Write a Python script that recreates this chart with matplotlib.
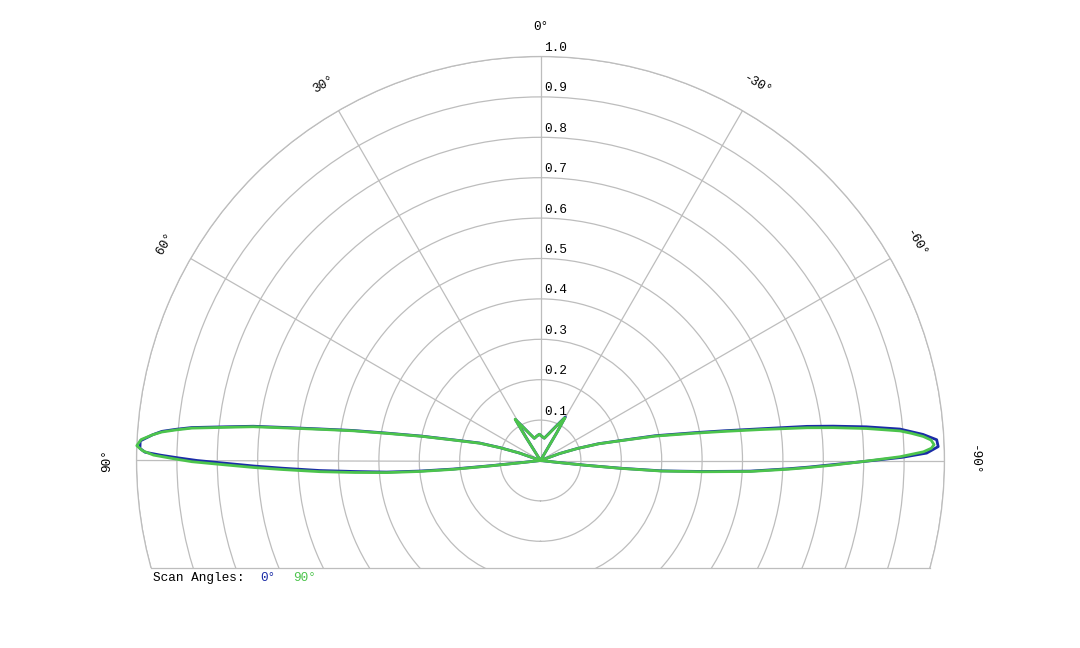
import numpy as np
import matplotlib
matplotlib.use('Agg')
import matplotlib.pyplot as plt
from matplotlib.patches import Rectangle

# Pattern cut. Theta in degrees, 0 = up, positive to the left.
# Scan angle 0 deg (blue)
scan0_theta = [-96.6, -96.3, -96.0, -95.5, -94.9, -93.9, -92.9, -91.9, -91.4, -90.8,
               -90.1, -89.5, -88.9, -88.0, -87.0, -86.1, -85.0, -84.1, -83.3, -82.7,
               -81.8, -80.8, -79.8, -77.8, -75.9, -73.9, -71.9, -70.0, -68.0,
               -30.9, -30.3, -29.7, -27.0, -23.4, -18.1, -9.6, -3.0, 2.6, 8.7,
               15.5, 22.1, 26.4, 29.3, 31.5, 32.1, 32.7,
               68.0, 70.5, 72.4, 74.0, 76.7, 78.4, 79.9, 80.9, 81.85, 82.7,
               83.2, 83.9, 84.6, 85.1, 85.6, 86.2, 87.2, 88.26, 88.8, 89.2,
               89.6, 90.0, 90.5, 91.1, 91.7, 92.6, 93.4, 94.3, 95.0, 95.6,
               96.0, 96.3, 96.5]
scan0_r = [0.0, 0.04, 0.11, 0.2, 0.3, 0.4, 0.52, 0.615, 0.665, 0.725,
           0.81, 0.895, 0.956, 0.985, 0.982, 0.949, 0.893, 0.811, 0.729, 0.665,
           0.55, 0.46, 0.39, 0.29, 0.2, 0.15, 0.095, 0.05, 0.0,
           0.0, 0.08, 0.124, 0.106, 0.089, 0.072, 0.056, 0.06, 0.065, 0.061,
           0.057, 0.072, 0.088, 0.104, 0.119, 0.07, 0.0,
           0.0, 0.056, 0.106, 0.157, 0.223, 0.3, 0.387, 0.47, 0.551, 0.646,
           0.716, 0.785, 0.867, 0.905, 0.94, 0.962, 0.992, 0.992, 0.979, 0.94,
           0.895, 0.85, 0.78, 0.71, 0.64, 0.547, 0.46, 0.382, 0.3, 0.217,
           0.12, 0.04, 0.0]

# Scan angle 90 deg (green)
scan90_theta = [-96.7, -96.4, -96.1, -95.6, -95.0, -94.0, -93.0, -92.0, -91.5, -90.9,
                -90.1, -89.4, -88.7, -88.2, -87.7, -87.0, -86.4, -85.8, -85.3, -84.4,
                -83.6, -83.0, -82.0, -81.0, -80.0, -78.0, -76.0, -74.0, -72.0, -70.0,
                -68.0,
                -31.0, -30.4, -29.8, -27.1, -23.5, -18.2, -9.7, -3.1, 2.6, 8.7,
                15.6, 22.2, 26.5, 29.4, 31.6, 32.2, 32.8,
                68.0, 70.5, 72.5, 74.1, 76.8, 78.5, 80.0, 81.0, 81.95, 82.8,
                83.3, 84.0, 84.7, 85.2, 85.7, 86.2, 87.0, 87.9, 88.6, 89.2,
                89.7, 90.2, 90.8, 91.4, 92.0, 92.9, 93.7, 94.5, 95.2, 95.8,
                96.2, 96.5, 96.7]
scan90_r = [0.0, 0.04, 0.11, 0.2, 0.3, 0.4, 0.52, 0.615, 0.665, 0.725,
            0.807, 0.89, 0.948, 0.968, 0.975, 0.968, 0.949, 0.92, 0.893, 0.811,
            0.729, 0.665, 0.55, 0.46, 0.39, 0.29, 0.2, 0.15, 0.095, 0.05,
            0.0,
            0.0, 0.08, 0.122, 0.105, 0.088, 0.071, 0.056, 0.06, 0.065, 0.061,
            0.057, 0.072, 0.088, 0.104, 0.12, 0.07, 0.0,
            0.0, 0.055, 0.105, 0.156, 0.222, 0.3, 0.387, 0.47, 0.551, 0.646,
            0.716, 0.785, 0.867, 0.905, 0.94, 0.962, 0.99, 1.0, 0.985, 0.958,
            0.91, 0.863, 0.78, 0.71, 0.64, 0.547, 0.46, 0.382, 0.3, 0.217,
            0.12, 0.04, 0.0]

theta_ticks = [-90, -60, -30, 0, 30, 60, 90]
theta_labels = ['-90°', '-60°', '-30°', '0°', '30°', '60°', '90°']
r_ticks = [0.1, 0.2, 0.3, 0.4, 0.5, 0.6, 0.7, 0.8, 0.9, 1.0]
r_labels = ['0.1', '0.2', '0.3', '0.4', '0.5', '0.6', '0.7', '0.8', '0.9', '1.0']
legend_title = 'Scan Angles:'
legend_names = ['0°', '90°']

BLUE = '#1a2ca6'
GREEN = '#4cc44c'
GRID = '#bdbdbd'
FONT = ['Liberation Mono', 'DejaVu Sans Mono']
FS = 9.2
CUT = 15.36  # circles are cut this many degrees below the horizontal

W, H = 1080, 648
fig = plt.figure(figsize=(W / 100, H / 100), dpi=100)

# polar axes centred at (540.5, 460.5) px with radius 404 px
cx, cy, R = 540.5, 460.5, 404
ax = fig.add_axes([(cx - R) / W, (H - cy - R) / H, 2 * R / W, 2 * R / H],
                  projection='polar')
ax.set_theta_zero_location('N')
ax.set_theta_direction(1)
ax.set_autoscale_on(False)
ax.set_thetalim(-np.pi, np.pi)
ax.set_ylim(0, 1)
ax.set_xticks(np.deg2rad(theta_ticks))
ax.set_xticklabels([])
ax.set_yticks(r_ticks)
ax.set_yticklabels([])
ax.tick_params(length=0)
ax.grid(True, color=GRID, lw=0.9)
ax.spines['polar'].set_color(GRID)
ax.spines['polar'].set_linewidth(0.9)

# hide the part of the circles below the cut, then draw the chord
cut_y = 0.5 - 0.5 * np.sin(np.deg2rad(CUT))
ax.add_artist(Rectangle((-1, -1), 3, cut_y + 1, transform=ax.transAxes,
                        facecolor='white', edgecolor='none', zorder=3, clip_on=False))
ax.plot(np.deg2rad([90 + CUT, -90 - CUT]), [1, 1], color=GRID, lw=0.9,
        zorder=3.5, clip_on=False)

# the two scans
ax.plot(np.deg2rad(scan0_theta), scan0_r, color=BLUE, lw=2.0, zorder=4, clip_on=False)
ax.plot(np.deg2rad(scan90_theta), scan90_r, color=GREEN, lw=2.0, zorder=5, clip_on=False)

# angle labels
for t, lab in zip(theta_ticks, theta_labels):
    ax.text(np.deg2rad(t), 1.073, lab, rotation=t, ha='center', va='center',
            fontsize=FS, family=FONT, color='black')

# radius labels along the 0 deg line
for r, lab in zip(r_ticks, r_labels):
    ax.annotate(lab, xy=(0, r), xytext=(3.5, 2.5), textcoords='offset pixels',
                ha='left', va='bottom', fontsize=FS, family=FONT,
                color='black', annotation_clip=False, zorder=6)

ax.set_thetalim(-np.pi, np.pi)
ax.set_ylim(0, 1)

# legend line under the chart
ly = (H - 578) / H
fig.text(152.7 / W, ly, legend_title, ha='left', va='center',
         fontsize=FS, family=FONT, color='black')
fig.text(260.7 / W, ly, legend_names[0], ha='left', va='center',
         fontsize=FS, family=FONT, color=BLUE)
fig.text(293.0 / W, ly, legend_names[1], ha='left', va='center',
         fontsize=FS, family=FONT, color=GREEN)

fig.savefig('out.png', dpi=100, facecolor='white')
